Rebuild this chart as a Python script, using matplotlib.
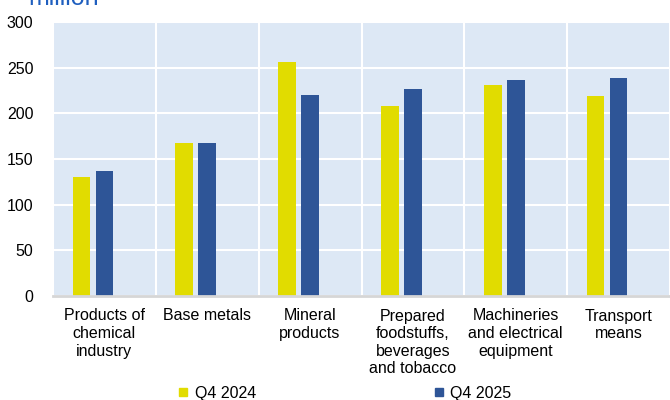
import matplotlib
matplotlib.use("Agg")
import matplotlib.pyplot as plt
from matplotlib.lines import Line2D
import numpy as np

plt.rcParams['font.family'] = ['Liberation Sans', 'DejaVu Sans']

# Trade by product group, million
categories = ["Products of\nchemical\nindustry", "Base metals", "Mineral\nproducts",
              "Prepared\nfoodstuffs,\nbeverages\nand tobacco",
              "Machineries\nand electrical\nequipment", "Transport\nmeans"]
q4_2024 = [130, 167, 256, 208, 231, 219]
q4_2025 = [137, 168, 220, 227, 236, 239]

yellow = '#e1dc00'
blue = '#2e5597'

fig = plt.figure(figsize=(6.7, 4.0), dpi=100)
ax = fig.add_axes([53 / 670, 1 - 296 / 400, 617 / 670, 274 / 400])
ax.set_facecolor('#dde8f5')

x = np.arange(len(categories))
w = 0.172
ax.bar(x - 0.223, q4_2024, width=w, color=yellow, zorder=3)
ax.bar(x, q4_2025, width=w, color=blue, zorder=3)

ax.set_ylim(0, 300)
ax.set_yticks(range(0, 301, 50))
ax.set_xlim(-0.5, -0.5 + 617 / 104.6)
ax.set_xticks(x)
ax.set_xticklabels(categories, fontsize=11.5, linespacing=1.22, va='top')

# category separators and horizontal grid
ax.set_xticks(np.arange(-0.5, 6, 1.0), minor=True)
ax.grid(axis='x', which='minor', color='white', lw=1.5, zorder=1)
ax.grid(axis='y', which='major', color='white', lw=1.5, zorder=1)

ax.tick_params(axis='both', which='both', length=0)
ax.tick_params(axis='y', labelsize=11.5, pad=14)
ax.tick_params(axis='x', pad=9)

for s in ['top', 'right', 'left']:
    ax.spines[s].set_visible(False)
ax.spines['bottom'].set_color('#d6d6d6')
ax.spines['bottom'].set_linewidth(2)
ax.spines['bottom'].set_zorder(4)

fig.text(28 / 670, 1 - 5 / 400, "million", color='#1f5fbf', fontsize=18,
         ha='left', va='baseline')

handles = [Line2D([], [], marker='s', ls='none', color=yellow, markersize=5.6),
           Line2D([], [], marker='s', ls='none', color=blue, markersize=5.6)]
fig.legend(handles, ["Q4 2024", "Q4 2025"], loc='center', ncol=2,
           bbox_to_anchor=(0.514, 0.017), frameon=False, fontsize=11.5,
           handlelength=0.7, handletextpad=0.35, columnspacing=11.1,
           borderaxespad=0, borderpad=0)

fig.savefig("out.png", dpi=100)
